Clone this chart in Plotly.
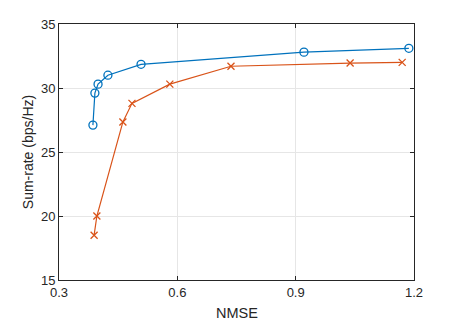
import plotly.graph_objects as go

# Values
nmse_a = [0.386, 0.391, 0.399, 0.424, 0.508, 0.921, 1.187]
rate_a = [27.1, 29.6, 30.3, 31.0, 31.85, 32.8, 33.1]

nmse_b = [0.389, 0.396, 0.462, 0.485, 0.581, 0.736, 1.038, 1.170]
rate_b = [18.5, 20.0, 27.35, 28.8, 30.3, 31.7, 31.95, 32.0]

x_ticks = [0.3, 0.6, 0.9, 1.2]
y_ticks = [15, 20, 25, 30, 35]

fig = go.Figure()

fig.add_trace(go.Scatter(
    x=nmse_a, y=rate_a,
    mode='lines+markers',
    line=dict(color='#0072BD', width=1.2),
    marker=dict(symbol='circle-open', size=8, color='#0072BD',
                line=dict(width=1.3, color='#0072BD')),
    showlegend=False
))

fig.add_trace(go.Scatter(
    x=nmse_b, y=rate_b,
    mode='lines+markers',
    line=dict(color='#D95319', width=1.2),
    marker=dict(symbol='x-thin-open', size=7, color='#D95319',
                line=dict(width=1.3, color='#D95319')),
    showlegend=False
))

axis_style = dict(
    showline=True,
    linecolor='#262626',
    linewidth=1,
    mirror='ticks',
    ticks='inside',
    ticklen=4,
    tickcolor='#262626',
    showgrid=True,
    gridcolor='#E6E6E6',
    gridwidth=1,
    zeroline=False,
    automargin=False,
    tickfont=dict(family='Liberation Sans, Arial, sans-serif', size=13, color='#262626'),
)

# page body has an 8px margin, so the figure is offset by 8px
fig.update_layout(
    width=441,
    height=315,
    margin=dict(l=51, r=35, t=16, b=43),
    paper_bgcolor='white',
    plot_bgcolor='white',
    font=dict(family='Liberation Sans, Arial, sans-serif', color='#262626'),
    xaxis=dict(
        range=[0.3, 1.2],
        tickvals=x_ticks,
        ticktext=[f'{v:.1f}' for v in x_ticks],
        **axis_style
    ),
    yaxis=dict(
        range=[15, 35],
        tickvals=y_ticks,
        title=dict(text='Sum-rate (bps/Hz)', font=dict(size=14), standoff=4),
        **axis_style
    ),
)

# x-axis title as an annotation so it sits where the reference has it
fig.add_annotation(
    text='NMSE', xref='paper', yref='paper', x=0.5, y=-0.129,
    xanchor='center', yanchor='middle', showarrow=False,
    font=dict(size=14.5, color='#262626')
)

fig.write_html("out.html")
